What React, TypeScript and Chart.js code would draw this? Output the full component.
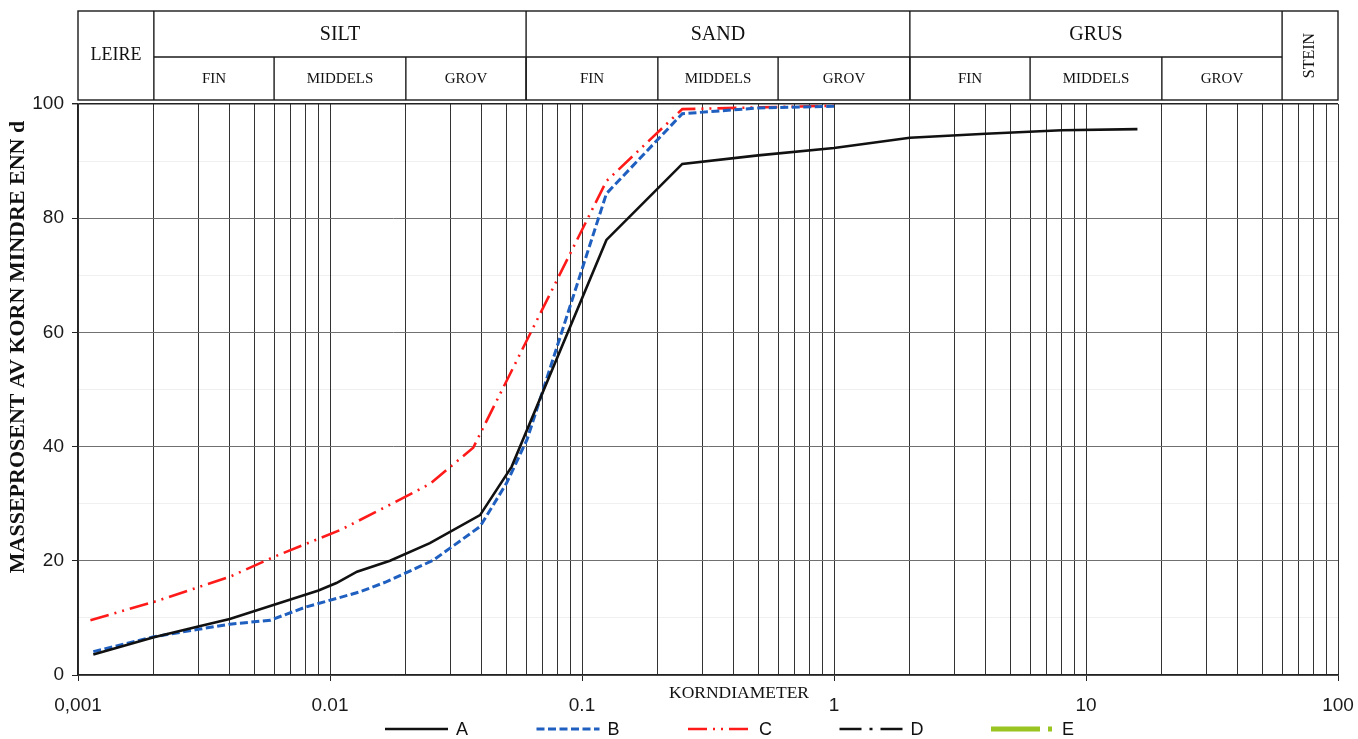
import React, { useEffect, useRef } from 'react';
import { Chart, registerables } from 'chart.js';

Chart.register(...registerables);

// ---- data (grain size in mm, percent passing) ----
const seriesNames = ['A', 'B', 'C', 'D', 'E'];
const aSize = [0.00115, 0.002, 0.003, 0.004, 0.006, 0.009, 0.0106, 0.0128, 0.0173, 0.0249, 0.0394, 0.0526, 0.125, 0.25, 0.5, 1, 2, 4, 8, 16];
const aPass = [3.6, 6.6, 8.5, 9.8, 12.3, 14.8, 16.1, 18.1, 20.0, 23.1, 28.0, 36.5, 76.2, 89.5, 91.0, 92.3, 94.1, 94.8, 95.4, 95.6];
const bSize = [0.00115, 0.002, 0.003, 0.004, 0.0058, 0.008, 0.011, 0.013, 0.0167, 0.0257, 0.0394, 0.0502, 0.0605, 0.125, 0.25, 0.5, 1];
const bPass = [4.1, 6.7, 8.0, 8.9, 9.6, 11.9, 13.6, 14.5, 16.3, 20.1, 26.0, 33.6, 41.2, 84.3, 98.3, 99.3, 99.6];
const cSize = [0.00112, 0.002, 0.004, 0.006, 0.011, 0.0178, 0.025, 0.037, 0.125, 0.25, 0.5, 1];
const cPass = [9.6, 12.8, 17.2, 20.7, 25.4, 30.1, 33.5, 39.8, 86.5, 99.1, 99.4, 99.7];
const dSize: number[] = [];
const dPass: number[] = [];
const eSize: number[] = [];
const ePass: number[] = [];

// ---- axis ticks ----
const xDecades = [0.001, 0.01, 0.1, 1, 10, 100];
const xTickLabels = ['0,001', '0.01', '0.1', '1', '10', '100'];
const yTickLabels = ['0', '20', '40', '60', '80', '100'];

// ---- header (soil classification) ----
const mainBandEdges = [0.001, 0.002, 0.06, 2, 60, 100];
const mainBandLabels = ['LEIRE', 'SILT', 'SAND', 'GRUS', 'STEIN'];
const subBandEdges = [0.002, 0.006, 0.02, 0.06, 0.2, 0.6, 2, 6, 20, 60];
const subBandLabels = ['FIN', 'MIDDELS', 'GROV', 'FIN', 'MIDDELS', 'GROV', 'FIN', 'MIDDELS', 'GROV'];

const xTitle = 'KORNDIAMETER';
const yTitle = 'MASSEPROSENT AV KORN MINDRE ENN d';

const pts = (xs: number[], ys: number[]) => xs.map((x, i) => ({ x, y: ys[i] }));

const SERIF = '"Liberation Serif", "Times New Roman", serif';
const SANS = '"Liberation Sans", Arial, sans-serif';

const isDecade = (v: number) => xDecades.some((d) => Math.abs(Math.log10(v) - Math.log10(d)) < 1e-6);

const headerPlugin = {
  id: 'soilHeader',
  afterDraw(chart: any) {
    const { ctx, chartArea, scales } = chart;
    const xs = scales.x;
    const top = chartArea.top - 93;
    const mid = chartArea.top - 47;
    const bot = chartArea.top - 4;
    const px = (v: number) => xs.getPixelForValue(v);
    ctx.save();
    ctx.strokeStyle = '#1a1a1a';
    ctx.lineWidth = 1.4;
    ctx.strokeRect(px(0.001), top, px(100) - px(0.001), bot - top);
    ctx.beginPath();
    ctx.moveTo(px(0.002), mid);
    ctx.lineTo(px(60), mid);
    ctx.stroke();
    mainBandEdges.slice(1, -1).forEach((e) => {
      ctx.beginPath();
      ctx.moveTo(px(e), top);
      ctx.lineTo(px(e), bot);
      ctx.stroke();
    });
    subBandEdges.slice(1, -1).forEach((e) => {
      ctx.beginPath();
      ctx.moveTo(px(e), mid);
      ctx.lineTo(px(e), bot);
      ctx.stroke();
    });
    ctx.fillStyle = '#111';
    ctx.textAlign = 'center';
    ctx.textBaseline = 'middle';
    mainBandLabels.forEach((lab, i) => {
      const cx = (px(mainBandEdges[i]) + px(mainBandEdges[i + 1])) / 2;
      if (i === 0) {
        ctx.font = `18px ${SERIF}`;
        ctx.fillText(lab, cx, (top + bot) / 2);
      } else if (i === mainBandLabels.length - 1) {
        ctx.save();
        ctx.translate(cx, (top + bot) / 2);
        ctx.rotate(-Math.PI / 2);
        ctx.font = `16px ${SERIF}`;
        ctx.fillText(lab, 0, 0);
        ctx.restore();
      } else {
        ctx.font = `20px ${SERIF}`;
        ctx.fillText(lab, cx, (top + mid) / 2 + 1);
      }
    });
    ctx.font = `15px ${SERIF}`;
    subBandLabels.forEach((lab, i) => {
      const cx = (px(subBandEdges[i]) + px(subBandEdges[i + 1])) / 2;
      ctx.fillText(lab, cx, (mid + bot) / 2 + 1);
    });

    // axis titles
    ctx.font = `17.5px ${SERIF}`;
    ctx.fillText(xTitle, px(0.1) + 157, chartArea.bottom + 18);
    ctx.save();
    ctx.translate(18, chartArea.top + 243);
    ctx.rotate(-Math.PI / 2);
    ctx.font = `bold 22px ${SERIF}`;
    ctx.fillText(yTitle, 0, 0);
    ctx.restore();

    // legend
    const ly = chartArea.bottom + 54;
    const x0 = chartArea.left + 307;
    const step = 151.5;
    const sampleLen = 63;
    chart.data.datasets.forEach((ds: any, i: number) => {
      const sx = x0 + i * step;
      ctx.save();
      ctx.strokeStyle = ds.borderColor;
      ctx.lineWidth = ds.borderWidth;
      ctx.setLineDash(ds.borderDash || []);
      ctx.beginPath();
      ctx.moveTo(sx, ly);
      ctx.lineTo(sx + sampleLen, ly);
      ctx.stroke();
      ctx.restore();
      ctx.font = `18px ${SANS}`;
      ctx.textAlign = 'left';
      ctx.fillStyle = '#111';
      ctx.fillText(ds.label, sx + sampleLen + 8, ly + 1);
    });
    ctx.restore();
  },
};

export default function App() {
  const ref = useRef<HTMLCanvasElement | null>(null);
  useEffect(() => {
    if (!ref.current) return;
    const chart = new Chart(ref.current, {
      type: 'line',
      data: {
        datasets: [
          { label: seriesNames[0], data: pts(aSize, aPass), borderColor: '#111111', borderWidth: 2.6, borderDash: [], pointRadius: 0, tension: 0 },
          { label: seriesNames[1], data: pts(bSize, bPass), borderColor: '#1f5fbf', borderWidth: 3, borderDash: [8, 3.5], pointRadius: 0, tension: 0 },
          { label: seriesNames[2], data: pts(cSize, cPass), borderColor: '#ff1a1a', borderWidth: 2.6, borderDash: [19, 6, 2, 6, 2, 6], pointRadius: 0, tension: 0 },
          { label: seriesNames[3], data: pts(dSize, dPass), borderColor: '#111111', borderWidth: 2.6, borderDash: [22, 8, 3, 8], pointRadius: 0, tension: 0 },
          { label: seriesNames[4], data: pts(eSize, ePass), borderColor: '#9ac421', borderWidth: 5, borderDash: [49, 8, 4, 40], pointRadius: 0, tension: 0 },
        ],
      } as any,
      options: {
        animation: false,
        responsive: false,
        maintainAspectRatio: false,
        layout: { padding: { top: 104, right: 20, left: 0, bottom: 0 } },
        plugins: { legend: { display: false }, tooltip: { enabled: false }, title: { display: false } },
        scales: {
          x: {
            type: 'logarithmic',
            min: 0.001,
            max: 100,
            afterBuildTicks: (s: any) => {
              const vals: number[] = [];
              xDecades.forEach((d, i) => {
                if (i === xDecades.length - 1) { vals.push(d); return; }
                for (let k = 1; k <= 9; k++) vals.push(Number((d * k).toPrecision(6)));
              });
              s.ticks = vals.map((v) => ({ value: v }));
            },
            afterFit: (s: any) => { s.height = 64; s.paddingLeft = 0; s.paddingRight = 0; },
            ticks: {
              autoSkip: false,
              maxRotation: 0,
              minRotation: 0,
              padding: 13,
              color: '#1a1a1a',
              font: { size: 19, family: SANS },
              callback: (v: any) => {
                const idx = xDecades.findIndex((d) => Math.abs(Math.log10(Number(v)) - Math.log10(d)) < 1e-6);
                return idx >= 0 ? xTickLabels[idx] : '';
              },
            },
            grid: {
              color: '#333333',
              lineWidth: 1,
              tickLength: 6,
              tickColor: (c: any) => (c.tick && isDecade(c.tick.value) ? '#222' : 'rgba(0,0,0,0)'),
            },
            border: { display: true, color: '#222', width: 1.4 },
          },
          y: {
            type: 'linear',
            min: 0,
            max: 100,
            afterFit: (s: any) => { s.width = 78; s.paddingTop = 0; s.paddingBottom = 0; },
            ticks: {
              stepSize: 10,
              padding: 8,
              color: '#1a1a1a',
              font: { size: 19, family: SANS },
              callback: (v: any) => {
                const idx = yTickLabels.indexOf(String(v));
                return idx >= 0 ? yTickLabels[idx] : '';
              },
            },
            grid: {
              color: (c: any) => {
                const v = c.tick ? c.tick.value : 0;
                if (v === 100) return '#222';
                return v % 20 === 0 ? '#707070' : 'rgba(0,0,0,0.06)';
              },
              lineWidth: (c: any) => (c.tick && c.tick.value === 100 ? 1.4 : 1),
              tickLength: 6,
              tickColor: (c: any) => (c.tick && c.tick.value % 20 === 0 ? '#222' : 'rgba(0,0,0,0)'),
            },
            border: { display: true, color: '#222', width: 1.4 },
          },
        },
      } as any,
      plugins: [headerPlugin],
    });
    return () => chart.destroy();
  }, []);
  return (
    <div style={{ position: 'fixed', left: 0, top: 0, width: 1358, height: 739, background: '#fff' }}>
      <canvas ref={ref} width={1358} height={739} style={{ display: 'block' }} />
    </div>
  );
}
